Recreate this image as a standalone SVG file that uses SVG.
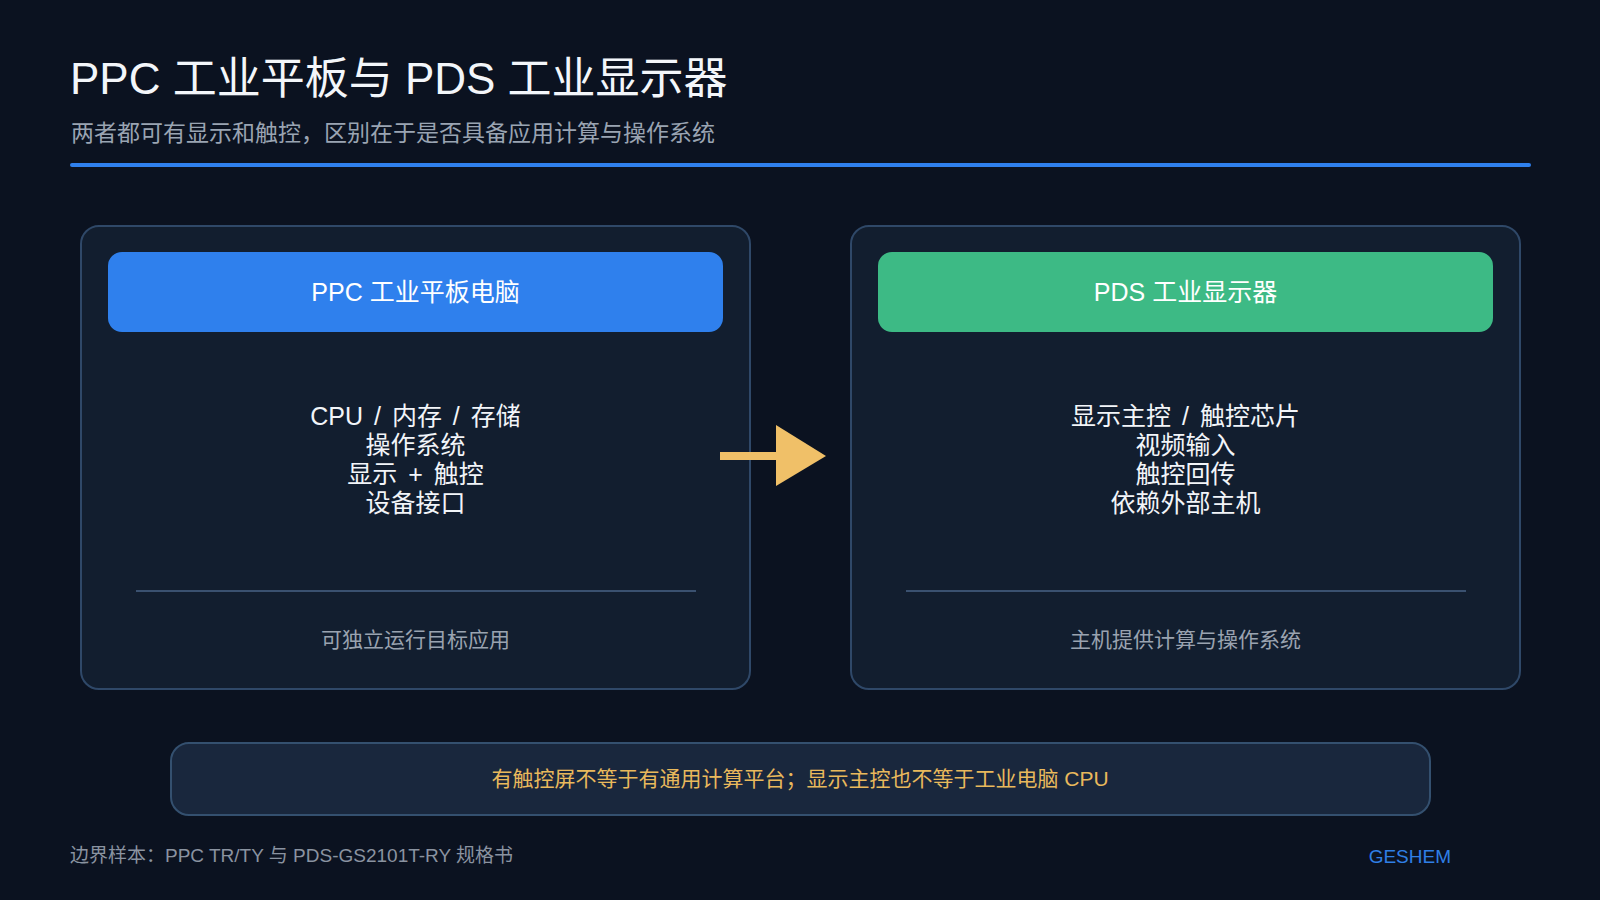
<svg xmlns="http://www.w3.org/2000/svg" width="1600" height="900" viewBox="0 0 1600 900">
<defs>
<style>
text{font-family:"Liberation Sans","Noto Sans CJK SC",sans-serif;}
.title{font-size:44px;fill:#f3f6fa;}
.sub{font-size:23px;fill:#9aa4b2;}
.card{fill:#121e2f;stroke:#2f4868;stroke-width:2;}
.hdr{font-size:25px;fill:#ffffff;text-anchor:middle;}
.body{font-size:25px;fill:#f2f5f9;text-anchor:middle;word-spacing:4px;}
.div{stroke:#3a5170;stroke-width:2;}
.foot{font-size:21px;fill:#9aa3b0;text-anchor:middle;}
.note{fill:#19273d;stroke:#34506f;stroke-width:2;}
</style>
</defs>
<rect x="0" y="0" width="1600" height="900" fill="#0b1220"/>
<text class="title" x="70" y="94">PPC 工业平板与 PDS 工业显示器</text>
<text class="sub" x="71" y="141">两者都可有显示和触控，区别在于是否具备应用计算与操作系统</text>
<rect x="70" y="163" width="1461" height="4" rx="2" fill="#2f80ed"/>

<g id="ppc">
<rect class="card" x="81" y="226" width="669" height="463" rx="18"/>
<rect x="108" y="252" width="615" height="80" rx="14" fill="#2f80ed"/>
<text class="hdr" x="415.5" y="301">PPC 工业平板电脑</text>
<text class="body" x="415.5" y="425">CPU / 内存 / 存储</text>
<text class="body" x="415.5" y="454">操作系统</text>
<text class="body" x="415.5" y="483">显示 + 触控</text>
<text class="body" x="415.5" y="512">设备接口</text>
<line class="div" x1="136" y1="591" x2="696" y2="591"/>
<text class="foot" x="415.5" y="647">可独立运行目标应用</text>
</g>

<g id="pds">
<rect class="card" x="851" y="226" width="669" height="463" rx="18"/>
<rect x="878" y="252" width="615" height="80" rx="14" fill="#3dba85"/>
<text class="hdr" x="1185.5" y="301">PDS 工业显示器</text>
<text class="body" x="1185.5" y="425">显示主控 / 触控芯片</text>
<text class="body" x="1185.5" y="454">视频输入</text>
<text class="body" x="1185.5" y="483">触控回传</text>
<text class="body" x="1185.5" y="512">依赖外部主机</text>
<line class="div" x1="906" y1="591" x2="1466" y2="591"/>
<text class="foot" x="1185.5" y="647">主机提供计算与操作系统</text>
</g>

<g id="connectors">
<rect x="720" y="452" width="57" height="8" fill="#f0c068"/>
<polygon points="776,425 826,456 776,486" fill="#f0c068"/>
</g>

<g id="note">
<rect class="note" x="171" y="743" width="1259" height="72" rx="18"/>
<text x="800" y="786" font-size="21" fill="#e9b95c" text-anchor="middle">有触控屏不等于有通用计算平台；显示主控也不等于工业电脑 CPU</text>
</g>

<text x="70" y="862" font-size="19" fill="#8a93a0">边界样本：PPC TR/TY 与 PDS-GS2101T-RY 规格书</text>
<text x="1451" y="863" font-size="19" fill="#2f7fe6" text-anchor="end">GESHEM</text>
</svg>
